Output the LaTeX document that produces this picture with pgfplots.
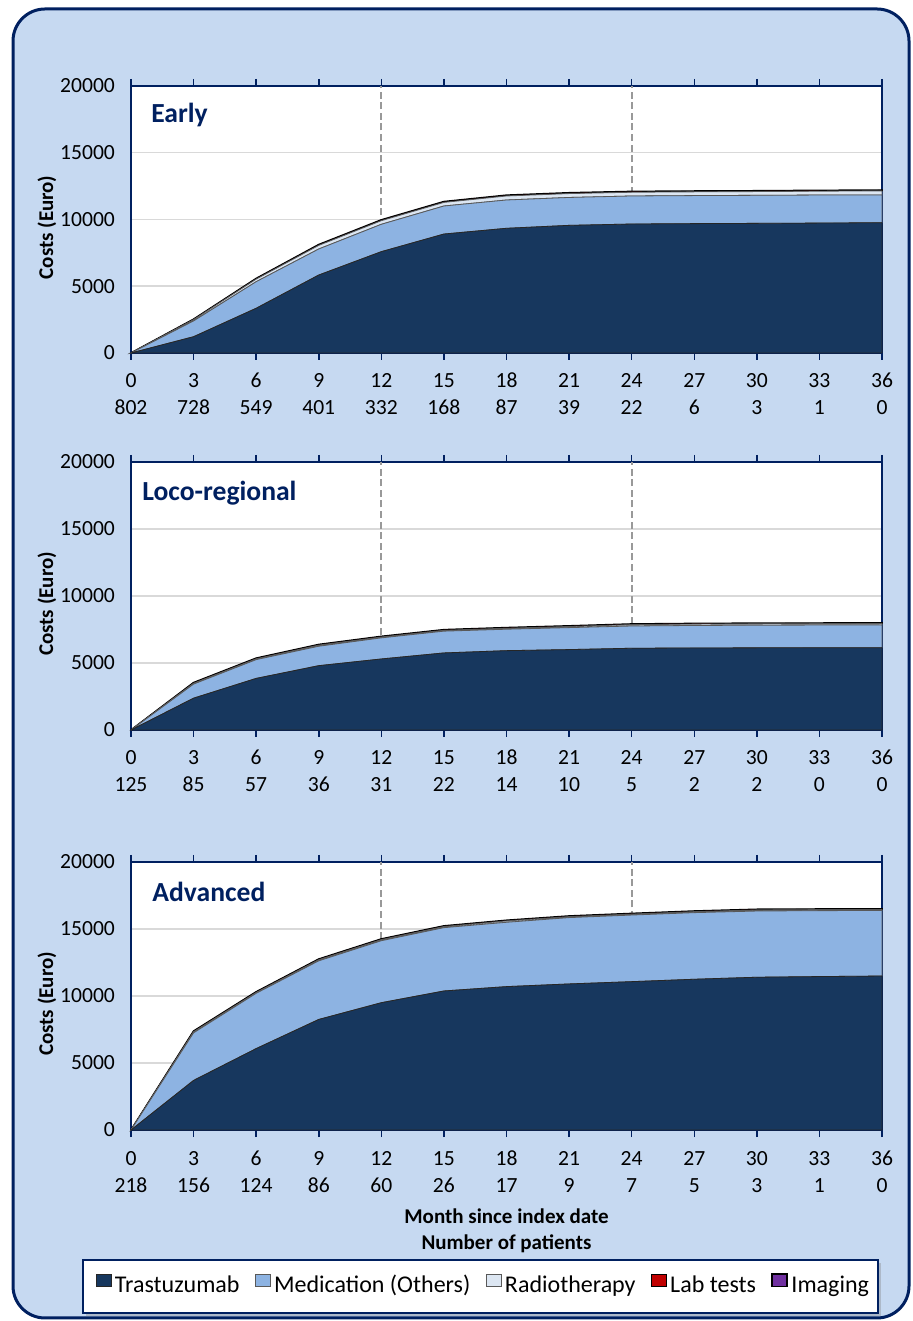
\documentclass[border=0pt]{standalone}
\usepackage{fontspec}
\setmainfont{Carlito}
\usepackage{pgfplots}
\pgfplotsset{compat=1.18}
\usepackage{pgfplotstable}
\usetikzlibrary{shadows}

\definecolor{navy}{HTML}{002060}
\definecolor{bgblue}{HTML}{C6D9F1}
\definecolor{trast}{HTML}{17375E}
\definecolor{medi}{HTML}{8DB3E2}
\definecolor{radio}{HTML}{DCE6F2}
\definecolor{lab}{HTML}{C00000}
\definecolor{imag}{HTML}{7030A0}
\definecolor{gridc}{HTML}{D9D9D9}
\definecolor{dashc}{HTML}{999999}

\newcommand\tickfont{\fontsize{10.8}{13.5}\selectfont}
\newcommand\labfont{\fontsize{10.5}{13}\selectfont\bfseries}
\newcommand\titfont{\fontsize{13.8}{16}\selectfont\bfseries}

% increments: t = Trastuzumab, m = Medication (Others), r = Radiotherapy, l = Lab tests, i = Imaging
\pgfplotstableread{
x  t     m    r   l  i
0  0     0    0   0  0
3  1220  1180 100 20 10
6  3350  1990 190 30 20
9  5840  1950 270 40 20
12 7590  2050 270 40 20
15 8910  2100 270 40 20
18 9340  2120 300 40 20
21 9560  2090 290 40 20
24 9660  2100 280 40 20
27 9690  2100 280 40 20
30 9710  2100 280 40 20
33 9730  2100 290 40 20
36 9760  2080 300 40 20
}\early

\pgfplotstableread{
x  t     m    r   l  i
0  0     0    0   0  0
3  2375  1050 60  30 20
6  3850  1400 60  30 20
9  4800  1450 80  30 20
12 5300  1575 60  30 20
15 5750  1625 60  30 20
18 5920  1600 70  30 20
21 6000  1640 80  30 20
24 6100  1660 100 30 20
27 6120  1680 100 30 20
30 6130  1690 100 30 20
33 6140  1690 100 30 20
36 6140  1700 100 30 20
}\loco

\pgfplotstableread{
x  t      m    r   l  i
0  0      0    0   0  0
3  3700   3550 80  30 20
6  6075   4125 60  30 20
9  8250   4375 80  30 20
12 9500   4625 80  30 20
15 10375  4725 80  30 20
18 10700  4800 100 30 20
21 10900  4950 70  30 20
24 11070  4970 70  30 20
27 11250  4970 70  30 20
30 11400  4940 80  30 20
33 11450  4920 70  30 20
36 11490  4890 70  30 20
}\adv

\tikzset{
  dashl/.style={dashc, line width=1pt, dash pattern=on 3.5pt off 1.8pt},
  ltrast/.style={draw=black!85, line width=0.4pt, fill=trast},
  lmed/.style={draw=black!65, line width=0.4pt, fill=medi},
  lrad/.style={draw=black!65, line width=0.4pt, fill=radio},
  llab/.style={draw=black, line width=0.4pt, fill=lab},
  limg/.style={draw=black, line width=0.8pt, fill=imag},
}

\pgfplotsset{
  panel/.style={
    scale only axis, width=375.5pt,
    xmin=0, xmax=36, ymin=0, ymax=20000,
    enlargelimits=false, clip=false,
    xtick={0,3,...,36}, ytick={0,5000,...,20000},
    stack plots=y,
    axis line style={navy, line width=0.75pt},
    tick align=outside,
    major tick length=3.5pt,
    xtick style={navy, line width=0.75pt},
    ytick style={draw=none},
    ymajorgrids, grid style={gridc, line width=0.75pt},
    /pgf/number format/1000 sep={},
    /pgf/number format/assume math mode=true,
    scaled y ticks=false,
    yticklabel style={font=\tickfont, xshift=-1pt},
    xticklabel style={font=\tickfont, align=center, anchor=base, yshift=-27.5pt},
    ylabel={Costs (Euro)},
    ylabel style={font=\labfont, at={(axis description cs:-0.112,0.47)}, anchor=center},
    axis background/.style={fill=white},
    legend image code/.code={\draw[##1, line width=0.4pt] (0pt,-0.2pt) rectangle (6.2pt,6pt); \useasboundingbox (0pt,-0.2pt) rectangle (7.5pt,6pt);},
  },
}

\begin{document}
\begin{tikzpicture}
\useasboundingbox (0,0) rectangle (456pt,660.5pt);
\fill[white] (0,0) rectangle (456pt,660.5pt);
\fill[bgblue] [rounded corners=16pt] (6.5pt,1.5pt) rectangle (454.5pt,656pt);
\draw[navy, line width=1.5pt, rounded corners=16pt] (6.5pt,1.5pt) rectangle (454.5pt,656pt);

% ---------- Early ----------
\begin{axis}[panel, at={(65.5pt,484pt)}, anchor=south west, height=133.5pt,
  xticklabels={{0\\802},{3\\728},{6\\549},{9\\401},{12\\332},{15\\168},{18\\87},{21\\39},{24\\22},{27\\6},{30\\3},{33\\1},{36\\0}}]
\addplot[ltrast, forget plot] table[x=x,y=t]{\early} \closedcycle;
\addplot[lmed, forget plot] table[x=x,y=m]{\early} \closedcycle;
\addplot[lrad, forget plot] table[x=x,y=r]{\early} \closedcycle;
\addplot[llab, forget plot] table[x=x,y=l]{\early} \closedcycle;
\addplot[limg, forget plot] table[x=x,y=i]{\early} \closedcycle;
\draw[dashl] (axis cs:12,0) -- (axis cs:12,20000);
\draw[dashl] (axis cs:24,0) -- (axis cs:24,20000);
\draw[navy, line width=0.75pt] (rel axis cs:0,0) rectangle (rel axis cs:1,1);
\node[anchor=west, inner sep=0pt, font=\titfont, text=navy] at (axis description cs:0.0266,0.891) {Early};
\end{axis}

% ---------- Loco-regional ----------
\begin{axis}[panel, at={(65.5pt,295.5pt)}, anchor=south west, height=134pt,
  xticklabels={{0\\125},{3\\85},{6\\57},{9\\36},{12\\31},{15\\22},{18\\14},{21\\10},{24\\5},{27\\2},{30\\2},{33\\0},{36\\0}}]
\addplot[ltrast, forget plot] table[x=x,y=t]{\loco} \closedcycle;
\addplot[lmed, forget plot] table[x=x,y=m]{\loco} \closedcycle;
\addplot[lrad, forget plot] table[x=x,y=r]{\loco} \closedcycle;
\addplot[llab, forget plot] table[x=x,y=l]{\loco} \closedcycle;
\addplot[limg, forget plot] table[x=x,y=i]{\loco} \closedcycle;
\draw[dashl] (axis cs:12,0) -- (axis cs:12,20000);
\draw[dashl] (axis cs:24,0) -- (axis cs:24,20000);
\draw[navy, line width=0.75pt] (rel axis cs:0,0) rectangle (rel axis cs:1,1);
\node[anchor=west, inner sep=0pt, font=\titfont, text=navy] at (axis description cs:0.0146,0.884) {Loco-regional};
\end{axis}

% legend frame
\draw[navy, line width=1pt, fill=white, drop shadow={shadow xshift=1.5pt, shadow yshift=-1.5pt, opacity=0.35}]
  (41.35pt,4.15pt) rectangle (438.85pt,30.5pt);

% ---------- Advanced ----------
\begin{axis}[panel, at={(65.5pt,95.5pt)}, anchor=south west, height=134pt,
  xticklabels={{0\\218},{3\\156},{6\\124},{9\\86},{12\\60},{15\\26},{18\\17},{21\\9},{24\\7},{27\\5},{30\\3},{33\\1},{36\\0}},
  xlabel={Month since index date\\Number of patients},
  xlabel style={font=\labfont, align=center, at={(axis description cs:0.5,-0.376)}, anchor=center},
  legend columns=-1,
  legend style={at={(axis description cs:0.4701,-0.583)}, anchor=center, draw=none, fill=none,
    font=\fontsize{12}{14}\selectfont, nodes={inner xsep=1.8pt, text height=8.6pt, text depth=2.6pt},
    /tikz/every even column/.append style={column sep=5.8pt}},
  ]
\addplot[ltrast] table[x=x,y=t]{\adv} \closedcycle;
\addplot[lmed] table[x=x,y=m]{\adv} \closedcycle;
\addplot[lrad] table[x=x,y=r]{\adv} \closedcycle;
\addplot[llab] table[x=x,y=l]{\adv} \closedcycle;
\addplot[limg] table[x=x,y=i]{\adv} \closedcycle;
\draw[dashl] (axis cs:12,0) -- (axis cs:12,20000);
\draw[dashl] (axis cs:24,0) -- (axis cs:24,20000);
\draw[navy, line width=0.75pt] (rel axis cs:0,0) rectangle (rel axis cs:1,1);
\node[anchor=west, inner sep=0pt, font=\titfont, text=navy] at (axis description cs:0.028,0.888) {Advanced};
\legend{Trastuzumab, Medication (Others), Radiotherapy, Lab tests, Imaging}
\end{axis}
\end{tikzpicture}
\end{document}
